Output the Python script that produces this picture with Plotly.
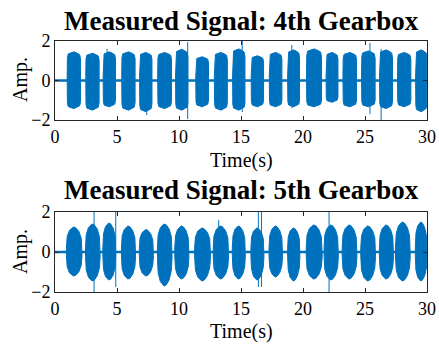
import plotly.graph_objects as go

# ---- axes ----
time_range = [0, 30]
amp_range = [-2, 2]
time_ticks = [0, 5, 10, 15, 20, 25, 30]
amp_ticks = [-2, 0, 2]

titles = ["Measured Signal: 4th Gearbox", "Measured Signal: 5th Gearbox"]

# ---- 4th gearbox: burst windows (s) and envelope peaks ----
g4_start = [0.98, 2.48, 3.88, 5.38, 6.82, 8.28, 9.72, 11.35, 12.85, 14.32,
            15.82, 17.28, 18.76, 20.28, 21.86, 23.22, 24.72, 26.17, 27.62, 29.08]
g4_end = [2.08, 3.58, 4.9, 6.48, 7.84, 9.42, 10.74, 12.4, 13.92, 15.34,
          16.84, 18.32, 19.74, 21.52, 22.84, 24.34, 25.84, 27.24, 28.72, 30.0]
g4_upper = [1.45, 1.38, 1.45, 1.45, 1.42, 1.42, 1.58, 1.2, 1.42, 1.6,
            1.25, 1.42, 1.55, 1.6, 1.42, 1.42, 1.5, 1.55, 1.42, 1.55]
g4_lower = [-1.42, -1.5, -1.33, -1.5, -1.58, -1.42, -1.5, -1.33, -1.5, -1.5,
            -1.33, -1.33, -1.33, -1.33, -1.1, -1.33, -1.33, -1.42, -1.33, -1.58]
g4_spike_t = [4.2, 7.4, 10.7, 15.1, 19.1, 25.4, 26.3]
g4_spike_hi = [1.6, 1.3, 1.95, 2.0, 1.8, 1.9, 1.6]
g4_spike_lo = [-1.3, -1.75, -1.95, -1.6, -1.4, -1.7, -2.0]

# ---- 5th gearbox ----
g5_start = [0.92, 2.46, 3.86, 5.36, 6.8, 8.26, 9.66, 11.26, 12.76, 14.3,
            15.8, 17.26, 18.76, 20.26, 21.7, 23.16, 24.66, 26.16, 27.46, 29.06]
g5_end = [2.18, 3.64, 4.9, 6.5, 7.94, 9.44, 10.8, 12.54, 14.0, 15.35,
          16.85, 18.35, 19.75, 21.55, 22.85, 24.35, 25.85, 27.3, 28.65, 30.0]
g5_upper = [1.25, 1.4, 1.45, 1.3, 1.12, 1.4, 1.3, 1.2, 1.3, 1.3,
            1.2, 1.3, 1.2, 1.35, 1.35, 1.35, 1.3, 1.35, 1.5, 1.5]
g5_lower = [-1.2, -1.45, -1.4, -1.35, -1.2, -1.7, -1.35, -1.45, -1.35, -1.35,
            -1.4, -1.25, -1.45, -1.35, -1.4, -1.35, -1.45, -1.35, -1.45, -1.45]
g5_spike_t = [3.15, 4.9, 13.2, 16.4, 16.65, 22.1]
g5_spike_hi = [2.0, 2.0, 1.6, 2.0, 2.0, 2.0]
g5_spike_lo = [-2.0, -1.75, -1.3, -1.75, -1.75, -2.0]

# normalised envelope profile of one burst (fraction of window, fraction of peak)
g4_profile_pos = [0.0, 0.02, 0.08, 0.3, 0.5, 0.7, 0.92, 0.98, 1.0]
g4_profile_val = [0.15, 0.8, 0.93, 0.97, 1.0, 0.96, 0.9, 0.75, 0.15]
g5_profile_pos = [0.0, 0.05, 0.2, 0.45, 0.6, 0.8, 0.95, 1.0]
g5_profile_val = [0.15, 0.62, 0.87, 1.0, 0.97, 0.82, 0.55, 0.15]

BLUE = "#0072BD"
AXIS = "#262626"
FONT = "Liberation Serif"
H = 347

# row domains in paper coordinates (pixel rows 41-120 and 212-292)
domains = [[1 - 120 / H, 1 - 41 / H], [1 - 292 / H, 1 - 212 / H]]


def burst_polygons(starts, ends, upper, lower, pos, val):
    xs, ys = [], []
    for s, e, hi, lo in zip(starts, ends, upper, lower):
        px = [s + p * (e - s) for p in pos]
        xs += px + px[::-1] + [px[0], None]
        ys += [hi * v for v in val] + [lo * v for v in val[::-1]] + [hi * val[0], None]
    return xs, ys


def spikes(ts, his, los):
    xs, ys = [], []
    for t, hi, lo in zip(ts, his, los):
        xs += [t, t, None]
        ys += [lo, hi, None]
    return xs, ys


fig = go.Figure()

series = [
    (g4_start, g4_end, g4_upper, g4_lower, g4_profile_pos, g4_profile_val,
     g4_spike_t, g4_spike_hi, g4_spike_lo),
    (g5_start, g5_end, g5_upper, g5_lower, g5_profile_pos, g5_profile_val,
     g5_spike_t, g5_spike_hi, g5_spike_lo),
]

for i, (st, en, up, lo, pp, pv, sk_t, sk_hi, sk_lo) in enumerate(series):
    xa = "x" if i == 0 else "x2"
    ya = "y" if i == 0 else "y2"
    # quiet baseline between bursts
    fig.add_trace(go.Scatter(x=time_range, y=[0, 0], mode="lines",
                             line=dict(color=BLUE, width=2.5),
                             xaxis=xa, yaxis=ya, showlegend=False, hoverinfo="skip"))
    bx, by = burst_polygons(st, en, up, lo, pp, pv)
    fig.add_trace(go.Scatter(x=bx, y=by, mode="lines", fill="toself",
                             fillcolor=BLUE, line=dict(color=BLUE, width=1),
                             xaxis=xa, yaxis=ya, showlegend=False, hoverinfo="skip"))
    sx, sy = spikes(sk_t, sk_hi, sk_lo)
    fig.add_trace(go.Scatter(x=sx, y=sy, mode="lines",
                             line=dict(color=BLUE, width=1),
                             xaxis=xa, yaxis=ya, showlegend=False, hoverinfo="skip"))

axis_common = dict(
    showline=True, linecolor=AXIS, linewidth=1, mirror="ticks",
    ticks="inside", ticklen=4, tickcolor=AXIS, showgrid=False, zeroline=False,
    automargin=False,
    tickfont=dict(family=FONT, size=18, color="black"),
)

fig.update_layout(
    template="none",
    width=439, height=H,
    margin=dict(l=55, r=12, t=0, b=0, autoexpand=False),
    paper_bgcolor="white", plot_bgcolor="white",
    xaxis=dict(domain=[0, 1], range=time_range, tickvals=time_ticks, anchor="y", **axis_common),
    yaxis=dict(domain=domains[0], range=amp_range, tickvals=amp_ticks, anchor="x", **axis_common),
    xaxis2=dict(domain=[0, 1], range=time_range, tickvals=time_ticks, anchor="y2", **axis_common),
    yaxis2=dict(domain=domains[1], range=amp_range, tickvals=amp_ticks, anchor="x2", **axis_common),
)

# titles and axis labels
title_y = [1 - 21 / H, 1 - 190 / H]
xlabel_y = [1 - 160 / H, 1 - 331 / H]
ylabel_y = [1 - 80 / H, 1 - 252 / H]
for i in range(2):
    fig.add_annotation(text="<b>%s</b>" % titles[i], xref="paper", yref="paper",
                       x=0.5, y=title_y[i], xanchor="center", yanchor="middle",
                       showarrow=False, font=dict(family=FONT, size=27, color="black"))
    fig.add_annotation(text="Time(s)", xref="paper", yref="paper",
                       x=0.5, y=xlabel_y[i], xanchor="center", yanchor="middle",
                       showarrow=False, font=dict(family=FONT, size=20, color="black"))
    fig.add_annotation(text="Amp.", xref="paper", yref="paper",
                       x=-35 / 372, y=ylabel_y[i], xanchor="center", yanchor="middle",
                       textangle=-90, showarrow=False,
                       font=dict(family=FONT, size=20, color="black"))

fig.write_html("out.html")
